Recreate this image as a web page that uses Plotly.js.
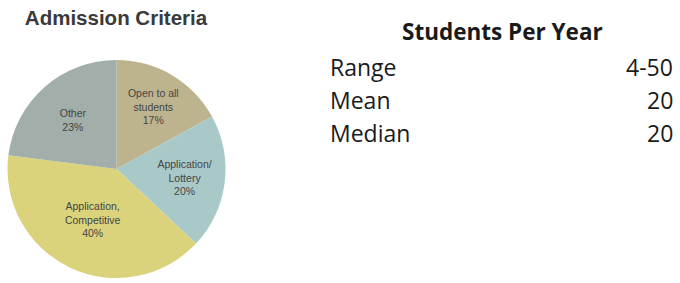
<!DOCTYPE html>
<html>
<head>
<meta charset="utf-8">
<script src="https://cdn.plot.ly/plotly-3.0.1.min.js"></script>
<style>html,body{margin:0;padding:0;background:#fff;}#chart{width:680px;height:283px;}</style>
</head>
<body>
<div id="chart"></div>
<script>
var categories = ['Open to all<br>students', 'Application/<br>Lottery', 'Application,<br>Competitive', 'Other'];
var shares = [17, 20, 40, 23];
var sliceColors = ['#bdb48f', '#a9c8c8', '#dbd37c', '#a2aea9'];
var statLabels = ['Range', 'Mean', 'Median'];
var statValues = ['4-50', '20', '20'];
var tableTitle = 'Students Per Year';
var chartTitle = 'Admission Criteria';

var W = 680, H = 283;
var trace = {
  type: 'pie',
  labels: categories,
  values: shares,
  sort: false,
  direction: 'clockwise',
  rotation: 0,
  marker: {colors: sliceColors, line: {width: 0}},
  texttemplate: '%{label}<br>%{value}%',
  textposition: 'inside',
  insidetextorientation: 'horizontal',
  textfont: {family: 'Liberation Sans, Arial, sans-serif', size: 10.5, color: '#454545'},
  hoverinfo: 'none',
  showlegend: false,
  domain: {x: [7 / W, 226 / W], y: [1 - 278 / H, 1 - 60 / H]}
};

var annotations = [];
annotations.push({
  xref: 'paper', yref: 'paper', x: 502 / W, y: 1 - 31 / H,
  xanchor: 'center', yanchor: 'middle', showarrow: false,
  text: '<b>' + tableTitle + '</b>',
  font: {family: 'Open Sans, sans-serif', size: 22.5, color: '#1a1a1a'}
});
var rowY = [67, 100, 133];
for (var i = 0; i < statLabels.length; i++) {
  annotations.push({
    xref: 'paper', yref: 'paper', x: 328 / W, y: 1 - rowY[i] / H,
    xanchor: 'left', yanchor: 'middle', showarrow: false,
    text: statLabels[i],
    font: {family: 'Open Sans, sans-serif', size: 23, color: '#1a1a1a'}
  });
  annotations.push({
    xref: 'paper', yref: 'paper', x: 675 / W, y: 1 - rowY[i] / H,
    xanchor: 'right', yanchor: 'middle', showarrow: false,
    text: statValues[i],
    font: {family: 'Open Sans, sans-serif', size: 23, color: '#1a1a1a'}
  });
}

var layout = {
  width: W, height: H,
  margin: {l: 0, r: 0, t: 0, b: 0},
  paper_bgcolor: '#ffffff',
  title: {
    text: '<b>' + chartTitle + '</b>',
    x: 116 / W, xanchor: 'center', xref: 'paper',
    y: 1 - 18 / H, yanchor: 'middle', yref: 'container',
    font: {family: 'Liberation Sans, Arial, sans-serif', size: 20.5, color: '#3a3a3a'}
  },
  annotations: annotations
};

Plotly.newPlot('chart', [trace], layout, {staticPlot: true, displayModeBar: false});
</script>
</body>
</html>
